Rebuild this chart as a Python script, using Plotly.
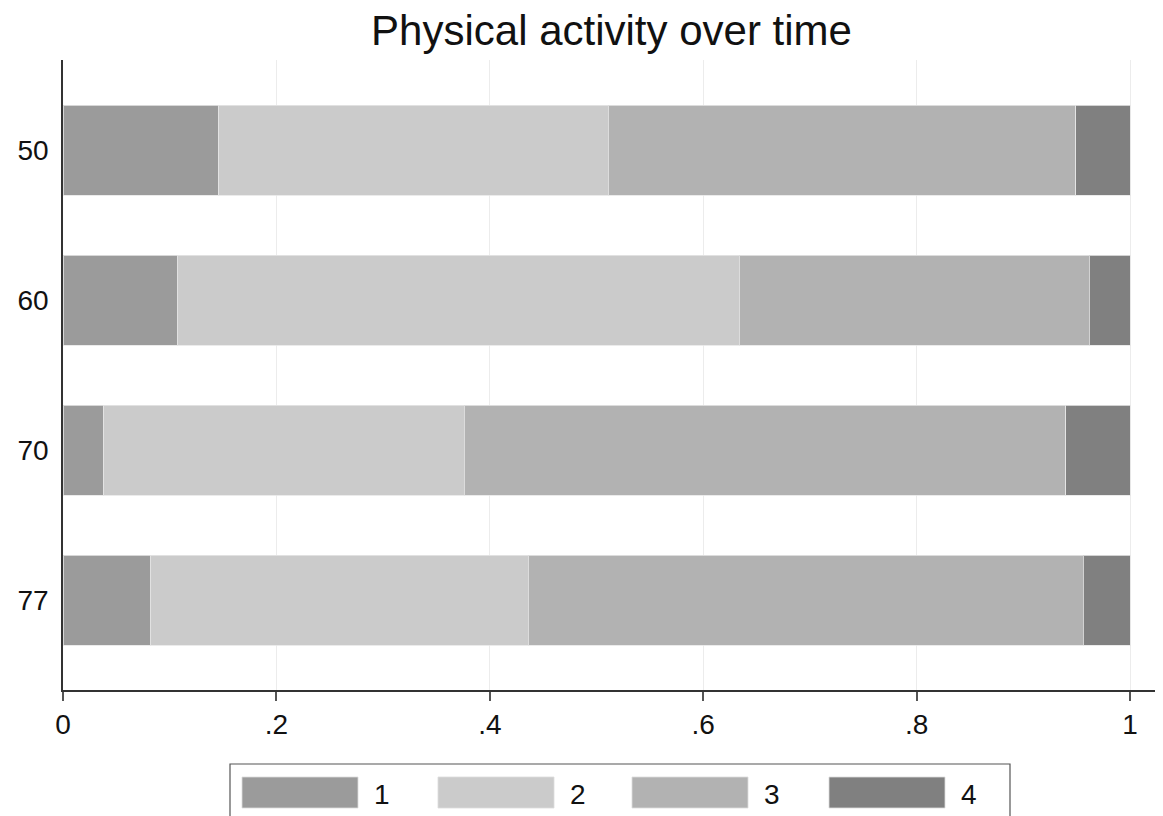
import plotly.graph_objects as go

categories = ["50", "60", "70", "77"]
series_names = ["1", "2", "3", "4"]
s1 = [0.146, 0.107, 0.038, 0.082]
s2 = [0.365, 0.527, 0.338, 0.354]
s3 = [0.438, 0.328, 0.564, 0.520]
s4 = [0.051, 0.038, 0.060, 0.044]
colors = ["#9b9b9b", "#cbcbcb", "#b2b2b2", "#808080"]
x_ticks = [0, 0.2, 0.4, 0.6, 0.8, 1.0]
x_tick_labels = ["0", ".2", ".4", ".6", ".8", "1"]

fig = go.Figure()
for name, vals, col in zip(series_names, [s1, s2, s3, s4], colors):
    fig.add_trace(go.Bar(
        y=categories, x=vals, name=name, orientation="h",
        marker=dict(color=col, line=dict(color="rgba(230,230,230,0.8)", width=1)),
        showlegend=False,
    ))

OFF = 8  # browser body margin
W, H = 1163 - OFF, 816 - OFF
# page coordinates of plot area
PL, PR, PT, PB = 63, 1160, 60, 690
L, T = PL - OFF, PT - OFF
R = W - (PR - OFF)
B = H - (PB - OFF)
pw, ph = PR - PL, PB - PT

def px2x(px):
    return (px - PL) / pw

def py2y(py):
    return (PB - py) / ph

shapes = [dict(type="rect", xref="paper", yref="paper",
               x0=px2x(230), x1=px2x(1010), y0=py2y(840), y1=py2y(764),
               line=dict(color="#555555", width=1.2), fillcolor="white", layer="above")]
annotations = []
sw_x = [242, 438, 632, 829]
for i, (name, col) in enumerate(zip(series_names, colors)):
    shapes.append(dict(type="rect", xref="paper", yref="paper",
                       x0=px2x(sw_x[i]), x1=px2x(sw_x[i] + 116),
                       y0=py2y(808), y1=py2y(777),
                       line=dict(color="rgba(220,220,220,0.8)", width=1), fillcolor=col, layer="above"))
    annotations.append(dict(xref="paper", yref="paper", x=px2x(sw_x[i] + 130), y=py2y(794),
                            text=name, showarrow=False, xanchor="left", yanchor="middle",
                            font=dict(size=28, color="#111111")))

fig.update_layout(
    width=W, height=H,
    margin=dict(l=L, r=R, t=T, b=B, pad=0),
    barmode="stack", bargap=0.4,
    plot_bgcolor="white", paper_bgcolor="white",
    font=dict(family="Liberation Sans, Arial, sans-serif", color="#111111"),
    title=dict(text="Physical activity over time", x=(PL + pw / 2 - OFF) / W, xanchor="center",
               y=1 - (30 - OFF) / H, yanchor="middle", font=dict(size=42, color="#111111")),
    xaxis=dict(range=[0, (1160 - 63) / 1067], tickvals=x_ticks, ticktext=x_tick_labels,
               showgrid=True, gridcolor="#ececec", gridwidth=1,
               showline=True, linecolor="#333333", linewidth=1.5,
               ticks="outside", ticklen=9, tickcolor="#555555", tickwidth=1.5,
               tickfont=dict(size=28), zeroline=False),
    yaxis=dict(range=[3.6, -0.6], showgrid=False, showline=True, linecolor="#333333",
               linewidth=1.5, ticks="", tickfont=dict(size=28), ticklabelstandoff=7),
    shapes=shapes, annotations=annotations,
)

fig.write_html("out.html")
